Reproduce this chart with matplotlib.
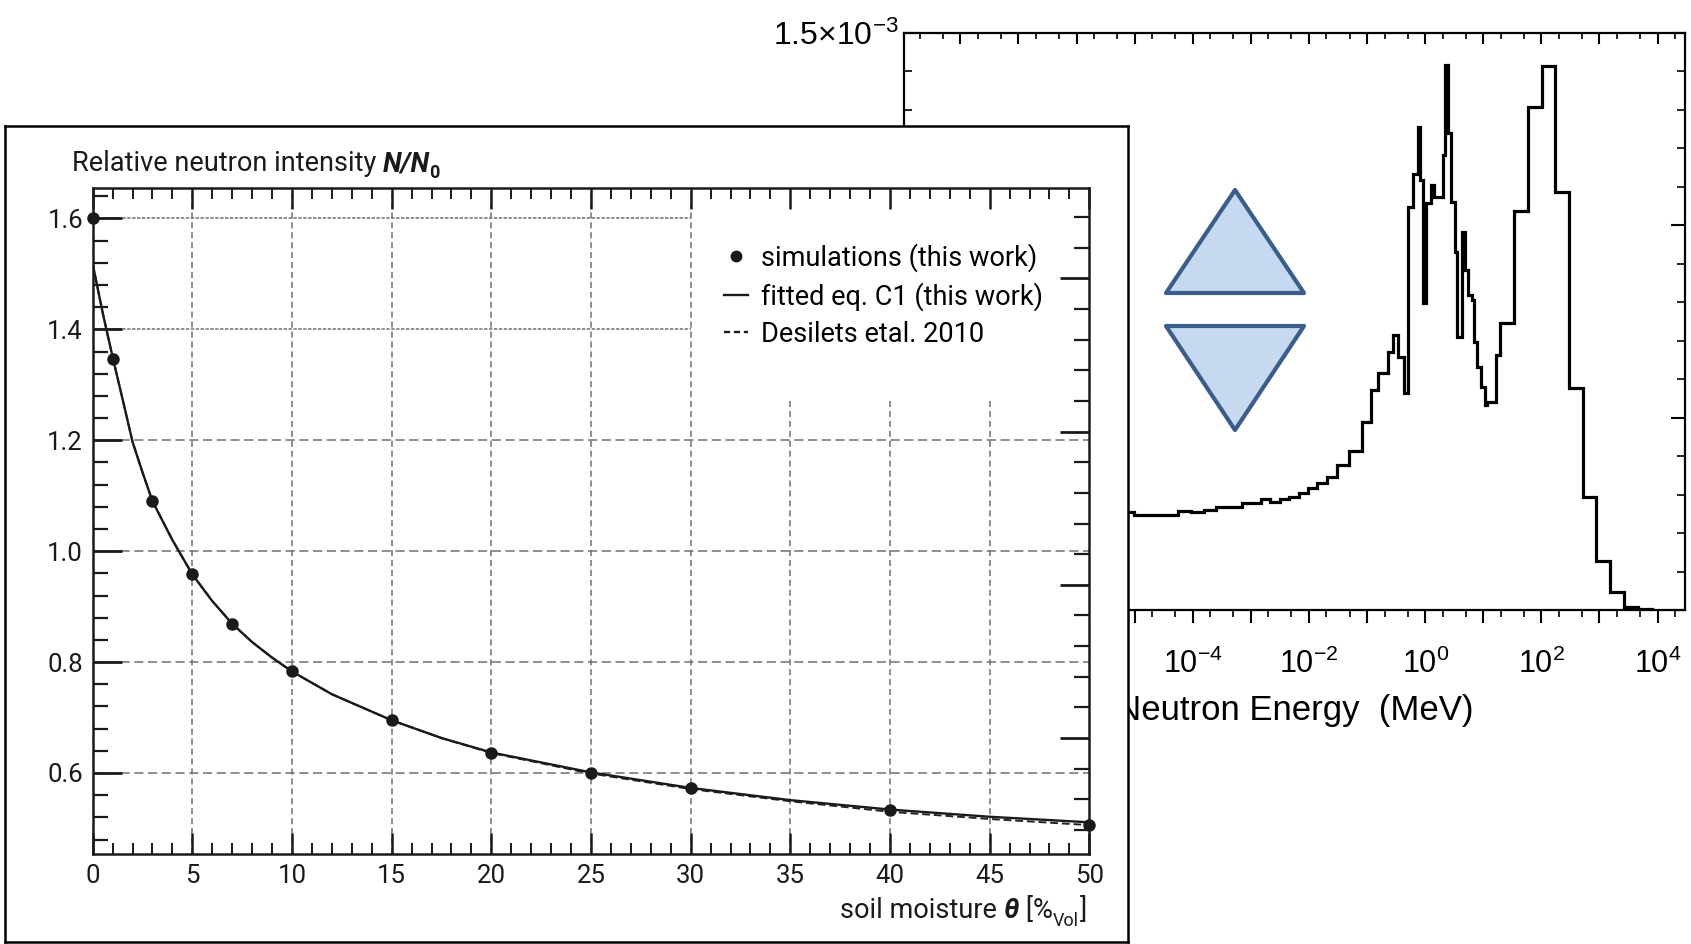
import numpy as np
import matplotlib
matplotlib.use("Agg")
import matplotlib.pyplot as plt
from matplotlib.lines import Line2D
from matplotlib.patches import Polygon
from matplotlib.ticker import FixedLocator, MultipleLocator, NullFormatter, FuncFormatter

# ---------------- data: left panel (N/N0 vs soil moisture) ----------------
moisture_sim = [0, 1, 3, 5, 7, 10, 15, 20, 25, 30, 40, 50]
intensity_sim = [1.600, 1.346, 1.090, 0.958, 0.869, 0.783, 0.695, 0.636, 0.600, 0.572, 0.533, 0.506]

moisture_curve = [0, 0.5, 1, 1.5, 2, 2.5, 3, 4, 5, 6, 7, 8, 9, 10, 12, 15, 17.5, 20, 25, 30, 35, 40, 45, 50]
fit_c1 = [1.518, 1.430, 1.350, 1.274, 1.197, 1.142, 1.090, 1.020, 0.958, 0.910, 0.869, 0.836,
          0.808, 0.783, 0.742, 0.695, 0.663, 0.637, 0.601, 0.573, 0.551, 0.534, 0.521, 0.511]
desilets = [1.518, 1.430, 1.350, 1.274, 1.197, 1.142, 1.090, 1.020, 0.958, 0.910, 0.869, 0.836,
            0.808, 0.783, 0.742, 0.695, 0.663, 0.636, 0.599, 0.571, 0.549, 0.530, 0.517, 0.506]

x_major_ticks = [0, 5, 10, 15, 20, 25, 30, 35, 40, 45, 50]
y_major_ticks = [0.6, 0.8, 1.0, 1.2, 1.4, 1.6]
legend_labels = ["simulations (this work)", "fitted eq. C1 (this work)", "Desilets etal. 2010"]

# ---------------- data: right panel (neutron energy spectrum) ----------------
energy_log_edges = [-6.0, -5.01, -4.26, -4.03, -3.80, -3.60, -3.16, -2.82, -2.67, -2.50,
                    -2.35, -2.18, -2.01, -1.86, -1.69, -1.52, -1.31, -1.08, -0.925, -0.814,
                    -0.632, -0.547, -0.469, -0.371, -0.287, -0.208, -0.130, -0.091, -0.046, 0.020,
                    0.104, 0.150, 0.300, 0.345, 0.391, 0.443, 0.508, 0.541, 0.638, 0.691,
                    0.736, 0.801, 0.834, 0.899, 0.964, 1.029, 1.062, 1.225, 1.290, 1.537,
                    1.765, 2.007, 2.235, 2.476, 2.710, 2.932, 3.179, 3.427, 3.668, 3.896]
flux_1e4 = [2.54, 2.47, 2.58, 2.54, 2.61, 2.68, 2.77, 2.88, 2.81, 2.88,
            2.94, 3.03, 3.16, 3.31, 3.46, 3.77, 4.14, 4.89, 5.71, 6.16,
            6.69, 7.14, 6.56, 5.63, 10.48, 11.32, 12.55, 11.17, 7.97, 10.56,
            11.04, 10.74, 11.82, 14.16, 12.38, 10.61, 9.30, 7.10, 9.83, 8.83,
            8.18, 8.05, 6.97, 6.32, 5.80, 5.32, 5.41, 6.62, 7.46, 10.37,
            13.06, 14.14, 10.85, 5.76, 2.94, 1.26, 0.48, 0.09, 0.02]
energy_label_exponents = [-8, -6, -4, -2, 0, 2, 4]

# ---------------- styling ----------------
W, H = 1691, 944
LF = ["Roboto", "DejaVu Sans"]
RF = ["Liberation Sans", "DejaVu Sans"]
FS_TXT = 19.5
FS_TICK = 18.5
FS_SUB = 13
plt.rcParams["mathtext.fontset"] = "custom"
plt.rcParams["mathtext.rm"] = "Liberation Sans"
plt.rcParams["mathtext.it"] = "Liberation Sans:italic"
plt.rcParams["mathtext.bf"] = "Liberation Sans:bold"

fig = plt.figure(figsize=(W / 100, H / 100), dpi=100)
fig.patch.set_facecolor("white")


def rect(x0, y0, x1, y1):
    return [x0 / W, 1 - y1 / H, (x1 - x0) / W, (y1 - y0) / H]


# ================= right panel =================
ax_r = fig.add_axes(rect(904, 32.5, 1684.6, 610), zorder=0)
edges = 10.0 ** np.array(energy_log_edges)
ax_r.stairs(np.array(flux_1e4) * 1e-4, edges, baseline=0, color="black", lw=2.3)
ax_r.set_xscale("log")
xl = (10 ** -8.97, 10 ** 4.465)
ax_r.set_xlim(*xl)
ax_r.set_ylim(0, 1.5e-3)
for s in ax_r.spines.values():
    s.set_linewidth(1.6)

decades = np.arange(-9, 5)
ax_r.xaxis.set_major_locator(FixedLocator(10.0 ** decades))
ax_r.xaxis.set_minor_locator(FixedLocator(np.concatenate([2 * 10.0 ** decades, 5 * 10.0 ** decades])))


def efmt(v, p):
    e = int(round(np.log10(v)))
    if e in energy_label_exponents:
        return r"$\mathrm{10^{%d}}$" % e
    return ""


ax_r.xaxis.set_major_formatter(FuncFormatter(efmt))
ax_r.xaxis.set_minor_formatter(NullFormatter())
ax_r.tick_params(axis="x", which="major", direction="out", length=9, width=1.5,
                 labelsize=22, pad=19, top=False)
ax_r.tick_params(axis="x", which="minor", direction="out", length=5, width=1.2, top=False)
for lab in ax_r.get_xticklabels():
    lab.set_family(RF)

ax_r.yaxis.set_major_locator(FixedLocator([0, 0.5e-3, 1.0e-3, 1.5e-3]))
ax_r.yaxis.set_minor_locator(MultipleLocator(1e-4))
ax_r.yaxis.set_major_formatter(FuncFormatter(
    lambda v, p: r"$\mathrm{1.5{\times}10^{-3}}$" if abs(v - 1.5e-3) < 1e-9 else ""))
ax_r.tick_params(axis="y", which="major", direction="in", left=True, right=True,
                 length=10, width=1.5, labelsize=23, pad=4)
ax_r.tick_params(axis="y", which="minor", direction="in", left=True, right=True,
                 length=6, width=1.2)
ax_r.set_xlabel("Neutron Energy  (MeV)", fontsize=25, family=RF, labelpad=10)

ax_t = ax_r.twiny()
ax_t.set_xscale("log")
ax_t.set_xlim(*xl)
ax_t.xaxis.set_major_locator(FixedLocator(10.0 ** decades))
ax_t.xaxis.set_minor_locator(FixedLocator(np.concatenate([2 * 10.0 ** decades, 5 * 10.0 ** decades])))
ax_t.xaxis.set_major_formatter(NullFormatter())
ax_t.xaxis.set_minor_formatter(NullFormatter())
ax_t.tick_params(axis="x", which="major", direction="in", length=8, width=1.5)
ax_t.tick_params(axis="x", which="minor", direction="in", length=4, width=1.2)
for s in ax_t.spines.values():
    s.set_visible(False)

# decorative up / down triangles
tri_fc, tri_ec = "#c6d9f0", "#3b5d8a"
up = [(1166, 293), (1304, 293), (1235, 190)]
down = [(1166, 326), (1304, 326), (1235, 430)]
for pts in (up, down):
    fig.add_artist(Polygon([(x / W, 1 - y / H) for x, y in pts], closed=True,
                           transform=fig.transFigure, facecolor=tri_fc, edgecolor=tri_ec,
                           lw=3.0, joinstyle="round", zorder=1.5))

# ================= left panel frame =================
ax_p = fig.add_axes(rect(5.4, 126, 1128.3, 941.5), zorder=1)
ax_p.set_xticks([])
ax_p.set_yticks([])
ax_p.set_facecolor("white")
for s in ax_p.spines.values():
    s.set_linewidth(1.8)

# ================= left plot =================
ax_l = fig.add_axes(rect(92.7, 187.7, 1089.3, 854.2), zorder=2)
ax_l.patch.set_visible(False)
ax_l.set_xlim(0, 50)
ax_l.set_ylim(0.4535, 1.6555)
for s in ax_l.spines.values():
    s.set_linewidth(1.8)
    s.set_color("#1a1a1a")

gcol = "#707070"
legend_clear_x = 30
legend_clear_y = 1.271
yl = ax_l.get_ylim()
for xv in x_major_ticks[1:-1]:
    top = yl[1] if xv <= legend_clear_x else legend_clear_y
    ax_l.plot([xv, xv], [yl[0], top], color=gcol, lw=1.1, ls=(0, (4.0, 2.5)), zorder=1)
for yv in y_major_ticks:
    if yv < legend_clear_y:
        ax_l.plot([0, 50], [yv, yv], color=gcol, lw=1.1, ls=(0, (6.0, 3.0)), zorder=1)
    else:
        ax_l.plot([0, legend_clear_x], [yv, yv], color=gcol, lw=1.1, ls=(0, (2.2, 1.0)), zorder=1)

ax_l.plot(moisture_curve, desilets, color="#222222", lw=1.4, ls=(0, (4, 2)), zorder=3)
ax_l.plot(moisture_curve, fit_c1, color="#1a1a1a", lw=1.7, zorder=4)
ax_l.plot(moisture_sim, intensity_sim, "o", color="#1a1a1a", ms=8, zorder=5, clip_on=False)

ax_l.xaxis.set_major_locator(FixedLocator(x_major_ticks))
ax_l.xaxis.set_minor_locator(MultipleLocator(1))
ax_l.yaxis.set_major_locator(FixedLocator(y_major_ticks))
ax_l.yaxis.set_minor_locator(MultipleLocator(0.04))
ax_l.xaxis.set_major_formatter(FuncFormatter(lambda v, p: "%d" % v))
ax_l.yaxis.set_major_formatter(FuncFormatter(lambda v, p: "%.1f" % v))
ax_l.tick_params(axis="x", which="major", direction="in", top=True, bottom=True,
                 length=15, width=1.8, labelsize=FS_TICK, pad=7, colors="#1a1a1a")
ax_l.tick_params(axis="x", which="minor", direction="in", top=True, bottom=True,
                 length=8, width=1.4, colors="#1a1a1a")
ax_l.tick_params(axis="y", which="major", direction="in", left=True, right=False,
                 length=21, width=2.0, labelsize=FS_TICK, pad=7, colors="#1a1a1a")
ax_l.tick_params(axis="y", which="minor", direction="in", left=True, right=False,
                 length=11, width=1.6, colors="#1a1a1a")
for lab in ax_l.get_xticklabels() + ax_l.get_yticklabels():
    lab.set_family(LF)

ax_l2 = ax_l.twinx()
ax_l2.set_zorder(3)
ax_l2.set_ylim(-3.79, 17.96)
ax_l2.yaxis.set_major_locator(FixedLocator([0, 5, 10, 15]))
ax_l2.yaxis.set_minor_locator(MultipleLocator(1))
ax_l2.yaxis.set_major_formatter(NullFormatter())
ax_l2.tick_params(axis="y", which="major", direction="in", length=21, width=2.0, colors="#1a1a1a")
ax_l2.tick_params(axis="y", which="minor", direction="in", length=11, width=1.6, colors="#1a1a1a")
for s in ax_l2.spines.values():
    s.set_visible(False)

# legend
handles = [Line2D([], [], marker="o", ls="none", color="#1a1a1a", ms=7.5),
           Line2D([], [], color="#1a1a1a", lw=1.7),
           Line2D([], [], color="#1a1a1a", lw=1.7, ls=(0, (2.6, 1.6)))]
leg = ax_l.legend(handles, legend_labels, loc="upper left",
                  bbox_to_anchor=(724 / W, 1 - 243 / H), bbox_transform=fig.transFigure,
                  frameon=False, borderpad=0, borderaxespad=0, handlelength=0.9,
                  handletextpad=0.45, labelspacing=0.37, prop={"family": LF, "size": FS_TXT})

# title "Relative neutron intensity N/N0"
t1 = fig.text(72 / W, 1 - 171.5 / H, "Relative neutron intensity ", fontsize=FS_TXT,
              family=LF, ha="left", va="baseline", color="#1a1a1a")
t2 = ax_l.annotate("N/N", xy=(1, 0), xycoords=t1, ha="left", va="bottom", fontsize=FS_TXT,
                   family=LF, fontweight="bold", fontstyle="italic", color="#1a1a1a")
t3 = ax_l.annotate("0", xy=(1, 0), xycoords=t2, xytext=(-1.0, -3.5), textcoords="offset points",
                   ha="left", va="bottom", fontsize=FS_SUB, family=LF, fontweight="bold",
                   color="#1a1a1a")

# x label "soil moisture θ [%Vol]"
e5 = fig.text(1087 / W, 1 - 918 / H, "]", fontsize=FS_TXT, family=LF, ha="right", va="baseline",
              color="#1a1a1a")
e4 = ax_l.annotate("Vol", xy=(0, 0), xycoords=e5, xytext=(-0.5, -4), textcoords="offset points",
                   ha="right", va="bottom", fontsize=FS_SUB, family=LF, color="#1a1a1a")
e3 = ax_l.annotate(" [%", xy=(0, 0), xycoords=e4, xytext=(0, 4), textcoords="offset points",
                   ha="right", va="bottom", fontsize=FS_TXT, family=LF, color="#1a1a1a")
e2 = ax_l.annotate("θ", xy=(0, 0), xycoords=e3, ha="right", va="bottom", fontsize=FS_TXT,
                   family=LF, fontweight="bold", fontstyle="italic", color="#1a1a1a")
e1 = ax_l.annotate("soil moisture ", xy=(0, 0), xycoords=e2, ha="right", va="bottom",
                   fontsize=FS_TXT, family=LF, color="#1a1a1a")

fig.savefig("out.png", dpi=100)
